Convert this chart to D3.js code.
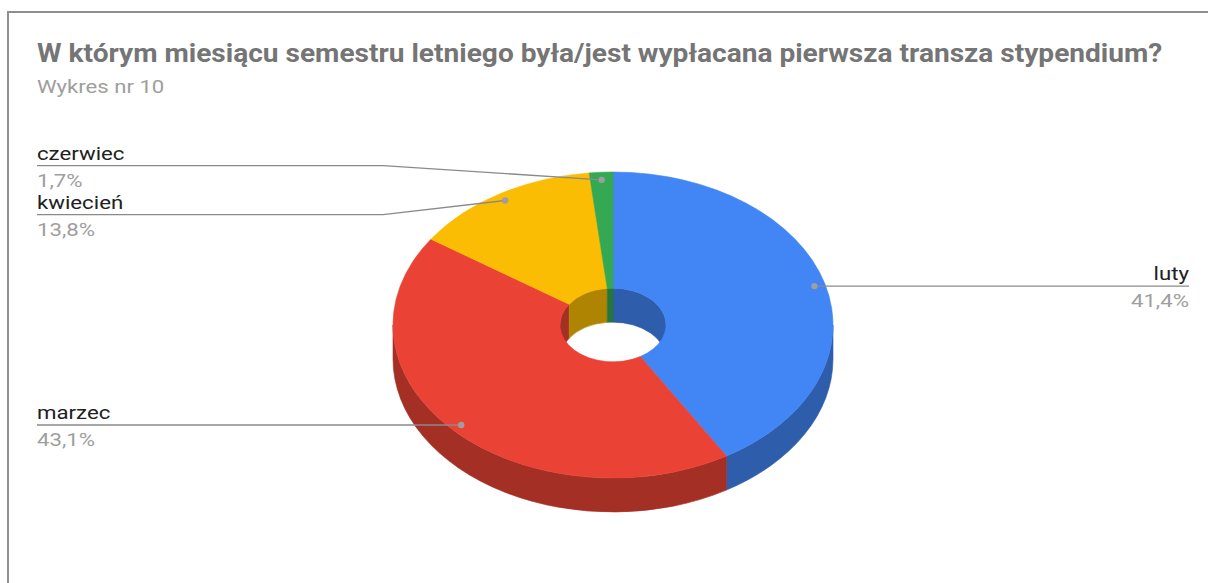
<!DOCTYPE html>
<html>
<head>
<meta charset="utf-8">
<script src="https://cdn.jsdelivr.net/npm/d3@7"></script>
<style>
  body { margin: 0; background: #fff; }
  svg { display: block; font-family: Roboto, "Noto Sans", sans-serif; }
</style>
</head>
<body>
<div id="chart"></div>
<script>
const categories = ["luty", "marzec", "kwiecień", "czerwiec"]
const counts = [24, 25, 8, 1]
const colors = ["#4285f4", "#ea4335", "#fbbc04", "#34a853"]
const title = "W którym miesiącu semestru letniego była/jest wypłacana pierwsza transza stypendium?"
const subtitle = "Wykres nr 10"

const width = 1208, height = 583
const cx = 613, cy = 325, rx = 220, ry = 153, depth = 34, rIn = 53
const k = ry / rx

let svg = d3.select("#chart").append("svg")
    .attr("width", width)
    .attr("height", height)

// frame
svg.append("rect")
    .attr("x", 8).attr("y", 12)
    .attr("width", 1400).attr("height", 800)
    .attr("fill", "none")
    .attr("stroke", "#8f8f8f")
    .attr("stroke-width", 2)

// the source text is a bit wider than plain Roboto, so stretch it
svg.append("text")
    .attr("transform", "translate(37,62) scale(1.08,1)")
    .attr("font-size", 26)
    .attr("font-weight", "bold")
    .attr("fill", "#757575")
    .text(title)

svg.append("text")
    .attr("transform", "translate(37,93) scale(1.23,1)")
    .attr("font-size", 18)
    .attr("fill", "#9e9e9e")
    .text(subtitle)

let total = d3.sum(counts)
let data = categories.map((c, i) => ({name: c, value: counts[i], color: colors[i]}))
let pie = d3.pie().sort(null).value(d => d.value)
let arcs = pie(data)

let shade = c => {
    let col = d3.rgb(c)
    return d3.rgb(col.r * 0.7, col.g * 0.7, col.b * 0.7).formatHex()
}

// band between an arc and the same arc moved down by depth (in unscaled coords)
function ribbon(r, t0, t1) {
    let D = depth / k
    let a0 = t0 - Math.PI / 2, a1 = t1 - Math.PI / 2
    let p = d3.path()
    p.moveTo(r * Math.cos(a0), r * Math.sin(a0))
    p.arc(0, 0, r, a0, a1, false)
    p.lineTo(r * Math.cos(a1), r * Math.sin(a1) + D)
    p.arc(0, D, r, a1, a0, true)
    p.closePath()
    return p.toString()
}

function clip(t0, t1, lo, hi) {
    let a = Math.max(t0, lo), b = Math.min(t1, hi)
    return a < b ? [a, b] : null
}

let pieG = svg.append("g")
    .attr("transform", `translate(${cx},${cy}) scale(1,${k})`)

// inner wall, back half (seen through the hole)
let innerParts = []
arcs.forEach(a => {
    [[-Math.PI / 2, Math.PI / 2], [1.5 * Math.PI, 2.5 * Math.PI]].forEach(([lo, hi]) => {
        let r = clip(a.startAngle, a.endAngle, lo, hi)
        if (r) innerParts.push({range: r, color: a.data.color})
    })
})
pieG.selectAll("path.inner")
    .data(innerParts)
    .enter().append("path")
    .attr("class", "inner")
    .attr("d", d => ribbon(rIn, d.range[0], d.range[1]))
    .attr("fill", d => shade(d.color))
    .attr("stroke", d => shade(d.color))
    .attr("stroke-width", 0.6)
    .attr("vector-effect", "non-scaling-stroke")

// outer wall, front half
let outerParts = []
arcs.forEach(a => {
    let r = clip(a.startAngle, a.endAngle, Math.PI / 2, 1.5 * Math.PI)
    if (r) outerParts.push({range: r, color: a.data.color})
})
pieG.selectAll("path.outer")
    .data(outerParts)
    .enter().append("path")
    .attr("class", "outer")
    .attr("d", d => ribbon(rx, d.range[0], d.range[1]))
    .attr("fill", d => shade(d.color))
    .attr("stroke", d => shade(d.color))
    .attr("stroke-width", 0.6)
    .attr("vector-effect", "non-scaling-stroke")

// top faces
let arcGen = d3.arc().innerRadius(rIn).outerRadius(rx)
pieG.selectAll("path.top")
    .data(arcs)
    .enter().append("path")
    .attr("class", "top")
    .attr("d", arcGen)
    .attr("fill", d => d.data.color)
    .attr("stroke", d => d.data.color)
    .attr("stroke-width", 0.6)
    .attr("vector-effect", "non-scaling-stroke")

// labels with leader lines
let fmt = v => d3.format(".1f")(v * 100 / total).replace(".", ",") + "%"
let labels = arcs.map(a => {
    let t = (a.startAngle + a.endAngle) / 2
    return {
        name: a.data.name,
        pct: fmt(a.data.value),
        x: cx + 0.95 * rx * Math.sin(t),
        y: cy - 0.95 * ry * Math.cos(t),
        side: Math.sin(t) >= 0 ? "right" : "left"
    }
})

// spread labels on one side that are too close
const minGap = 49
;["left", "right"].forEach(side => {
    let group = labels.filter(l => l.side == side).sort((a, b) => a.y - b.y)
    group.forEach(l => l.ly = l.y)
    for (let i = 1; i < group.length; i++) {
        if (group[i].ly - group[i - 1].ly < minGap) {
            let mid = (group[i].ly + group[i - 1].ly) / 2
            group[i - 1].ly = mid - minGap / 2
            group[i].ly = mid + minGap / 2
        }
    }
})

const leftX = 37, rightX = 1189, elbowL = cx - rx - 10, sx = 1.17
let lab = svg.append("g")

lab.selectAll("path.leader")
    .data(labels)
    .enter().append("path")
    .attr("class", "leader")
    .attr("d", d => {
        if (d.side == "left") {
            return d3.line()([[d.x, d.y], [elbowL, d.ly], [leftX, d.ly]])
        }
        return d3.line()([[d.x, d.y], [rightX, d.ly]])
    })
    .attr("fill", "none")
    .attr("stroke", "#8a8a8a")
    .attr("stroke-width", 1.4)

lab.selectAll("circle")
    .data(labels)
    .enter().append("circle")
    .attr("cx", d => d.x)
    .attr("cy", d => d.y)
    .attr("r", 3.2)
    .attr("fill", "#9e9e9e")

lab.selectAll("text.name")
    .data(labels)
    .enter().append("text")
    .attr("class", "name")
    .attr("transform", d => `translate(${d.side == "left" ? leftX : rightX},${d.ly - 6}) scale(${sx},1)`)
    .attr("text-anchor", d => d.side == "left" ? "start" : "end")
    .attr("font-size", 19)
    .attr("fill", "#212121")
    .text(d => d.name)

lab.selectAll("text.pct")
    .data(labels)
    .enter().append("text")
    .attr("class", "pct")
    .attr("transform", d => `translate(${d.side == "left" ? leftX : rightX},${d.ly + 21}) scale(${sx},1)`)
    .attr("text-anchor", d => d.side == "left" ? "start" : "end")
    .attr("font-size", 19)
    .attr("fill", "#9e9e9e")
    .text(d => d.pct)
</script>
</body>
</html>
